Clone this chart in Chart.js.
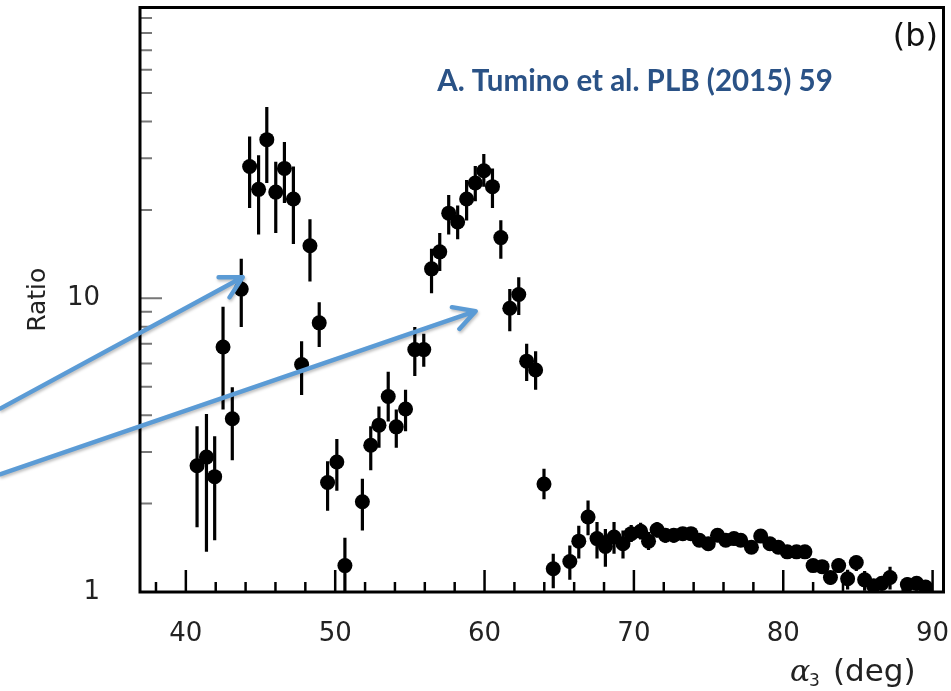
<!DOCTYPE html>
<html>
<head>
<meta charset="utf-8">
<script src="https://cdn.jsdelivr.net/npm/chart.js@4.4.1/dist/chart.umd.min.js"></script>
<style>
  html, body { margin: 0; padding: 0; background: #fff; }
  #wrap { width: 951px; height: 691px; }
</style>
</head>
<body>
<div id="wrap"><canvas id="myChart" width="951" height="691"></canvas></div>
<script>
// alpha_3 angle (deg)
var angle = [40.75, 41.38, 41.93, 42.49, 43.11, 43.71, 44.27, 44.87, 45.42, 46.02,
             46.60, 47.20, 47.75, 48.31, 48.93, 49.49, 50.11, 50.65, 51.82, 52.38,
             52.93, 53.55, 54.09, 54.71, 55.33, 55.93, 56.45, 57.00, 57.60, 58.20,
             58.80, 59.38, 59.95, 60.53, 61.09, 61.69, 62.29, 62.82, 63.42, 63.98,
             64.60, 65.71, 66.31, 66.93, 67.53, 68.09, 68.67, 69.27, 69.82, 70.45,
             70.98, 71.55, 72.11, 72.67, 73.27, 73.82, 74.38, 74.98, 75.60, 76.15,
             76.70, 77.15, 77.87, 78.49, 79.11, 79.67, 80.27, 80.89, 81.45, 82.00,
             82.60, 83.16, 83.71, 84.31, 84.89, 85.45, 86.05, 86.60, 87.15, 88.31,
             88.93, 89.53];
var ratio = [2.69, 2.88, 2.47, 6.83, 3.89, 10.75, 28.1, 23.5, 34.7, 23.0,
             27.7, 21.8, 5.95, 15.1, 8.25, 2.36, 2.77, 1.23, 2.03, 3.16,
             3.70, 4.63, 3.65, 4.20, 6.69, 6.69, 12.6, 14.4, 19.5, 18.2,
             21.8, 24.7, 27.2, 24.0, 16.1, 9.25, 10.3, 6.11, 5.70, 2.33,
             1.20, 1.27, 1.49, 1.80, 1.52, 1.43, 1.54, 1.46, 1.58, 1.61,
             1.49, 1.63, 1.56, 1.56, 1.58, 1.58, 1.50, 1.46, 1.56, 1.50,
             1.52, 1.50, 1.42, 1.55, 1.46, 1.42, 1.37, 1.37, 1.37, 1.23,
             1.22, 1.12, 1.23, 1.11, 1.26, 1.10, 1.05, 1.07, 1.12, 1.06,
             1.07, 1.04];
// error bar ends
var ratioLo = [1.66, 1.37, 1.50, 4.18, 2.81, 7.98, 20.3, 16.5, 24.7, 16.7,
               21.1, 15.3, 4.69, 11.4, 6.83, 1.89, 2.21, 1.00, 1.62, 2.60,
               3.10, 3.81, 3.10, 3.53, 5.44, 5.85, 10.4, 12.4, 16.5, 15.9,
               18.4, 21.4, 24.0, 20.3, 13.65, 7.72, 8.78, 5.23, 4.88, 2.07,
               1.03, 1.10, 1.30, 1.56, 1.30, 1.22, 1.35, 1.30, 1.48, 1.51,
               1.39, 1.53, 1.47, 1.47, 1.50, 1.50, 1.43, 1.39, 1.49, 1.43,
               1.45, 1.43, 1.36, 1.48, 1.40, 1.36, 1.31, 1.31, 1.31, 1.17,
               1.16, 1.06, 1.16, 1.02, 1.18, 1.01, 1.00, 1.01, 1.02, 1.00,
               1.01, 1.00];
var ratioHi = [3.67, 4.04, 3.39, 9.37, 4.98, 13.65, 35.6, 30.7, 44.8, 29.2,
               34.1, 28.1, 7.14, 18.6, 9.69, 2.79, 3.32, 1.53, 2.43, 3.67,
               4.28, 5.62, 4.18, 4.88, 7.98, 7.58, 14.75, 16.7, 22.5, 20.7,
               25.3, 28.2, 31.0, 27.7, 18.45, 10.75, 11.8, 7.01, 6.61, 2.63,
               1.35, 1.44, 1.68, 2.05, 1.73, 1.64, 1.73, 1.62, 1.69, 1.72,
               1.60, 1.73, 1.65, 1.65, 1.66, 1.66, 1.57, 1.53, 1.63, 1.57,
               1.59, 1.57, 1.49, 1.62, 1.52, 1.48, 1.43, 1.43, 1.43, 1.29,
               1.28, 1.18, 1.30, 1.19, 1.33, 1.18, 1.10, 1.13, 1.22, 1.12,
               1.13, 1.08];

var xTicks = [38, 40, 42, 44, 46, 48, 50, 52, 54, 56, 58, 60, 62, 64, 66, 68, 70, 72, 74, 76, 78, 80, 82, 84, 86, 88, 90];
var yTicks = [1, 2, 3, 4, 5, 6, 7, 8, 9, 10, 20, 30, 40, 50, 60, 70, 80, 90];

// arrows drawn by hand on the figure, in data coordinates [x0, y0, x1, y1]
var arrows = [[27.6, 4.22, 43.8, 11.8], [27.6, 2.52, 59.4, 9.04]];

var tickFont = {family: '"DejaVu Sans", sans-serif', size: 26};

var decor = {
  id: 'decor',
  beforeDatasetsDraw: function(chart) {
    var ctx = chart.ctx, a = chart.chartArea;
    var x = chart.scales.x, y = chart.scales.y;
    ctx.save();
    ctx.beginPath();
    ctx.rect(a.left, a.top, a.right - a.left, a.bottom - a.top);
    ctx.clip();
    // error bars
    ctx.strokeStyle = '#000';
    ctx.lineWidth = 3.2;
    ctx.beginPath();
    for (var i = 0; i < angle.length; i++) {
      var px = x.getPixelForValue(angle[i]);
      ctx.moveTo(px, y.getPixelForValue(ratioHi[i]));
      ctx.lineTo(px, y.getPixelForValue(ratioLo[i]));
    }
    ctx.stroke();
    // x ticks (inward)
    ctx.lineWidth = 2.5;
    ctx.beginPath();
    x.ticks.forEach(function(t) {
      var px = x.getPixelForValue(t.value);
      var len = t.value % 10 === 0 ? 22 : 10;
      ctx.moveTo(px, a.bottom);
      ctx.lineTo(px, a.bottom - len);
    });
    ctx.stroke();
    // y ticks (inward)
    ctx.strokeStyle = '#777';
    ctx.lineWidth = 2;
    ctx.beginPath();
    y.ticks.forEach(function(t) {
      if (t.value === 1) return;
      var py = y.getPixelForValue(t.value);
      var len = (t.value === 10 || t.value === 100) ? 22 : 12;
      ctx.moveTo(a.left, py);
      ctx.lineTo(a.left + len, py);
    });
    ctx.stroke();
    ctx.restore();
    // frame
    ctx.save();
    ctx.strokeStyle = '#000';
    ctx.lineWidth = 3;
    ctx.strokeRect(a.left, a.top, a.right - a.left, a.bottom - a.top);
    ctx.restore();
  },
  afterDraw: function(chart) {
    var ctx = chart.ctx;
    var x = chart.scales.x, y = chart.scales.y;
    ctx.save();
    // blue arrows
    ctx.strokeStyle = '#5b9bd5';
    ctx.lineWidth = 4.5;
    ctx.lineCap = 'round';
    ctx.lineJoin = 'round';
    ctx.shadowColor = 'rgba(0,0,0,0.25)';
    ctx.shadowBlur = 3;
    ctx.shadowOffsetX = 1;
    ctx.shadowOffsetY = 2;
    arrows.forEach(function(ar) {
      var x0 = x.getPixelForValue(ar[0]), y0 = y.getPixelForValue(ar[1]);
      var x1 = x.getPixelForValue(ar[2]), y1 = y.getPixelForValue(ar[3]);
      var th = Math.atan2(y1 - y0, x1 - x0);
      ctx.beginPath();
      ctx.moveTo(x0, y0);
      ctx.lineTo(x1, y1);
      ctx.moveTo(x1 - 24 * Math.cos(th - 0.5), y1 - 24 * Math.sin(th - 0.5));
      ctx.lineTo(x1, y1);
      ctx.lineTo(x1 - 24 * Math.cos(th + 0.5), y1 - 24 * Math.sin(th + 0.5));
      ctx.stroke();
    });
    ctx.restore();

    ctx.save();
    // panel label
    ctx.fillStyle = '#111';
    ctx.font = '32px "DejaVu Sans"';
    ctx.textAlign = 'right';
    ctx.textBaseline = 'middle';
    ctx.fillText('(b)', 938, 38);
    // citation
    var cite = 'A. Tumino et al. PLB (2015) 59';
    ctx.font = 'bold 100px Lato';
    var size = 100 * 395 / ctx.measureText(cite).width;
    ctx.font = 'bold ' + size.toFixed(1) + 'px Lato';
    ctx.fillStyle = '#2a5286';
    ctx.textAlign = 'center';
    ctx.fillText(cite, 635, 81);
    // x axis title
    ctx.fillStyle = '#222';
    ctx.textAlign = 'left';
    ctx.textBaseline = 'alphabetic';
    ctx.font = 'italic 30px "DejaVu Serif"';
    ctx.fillText('α', 790, 681);
    ctx.font = '17px "DejaVu Sans"';
    ctx.fillText('3', 809, 686);
    ctx.font = '31px "DejaVu Sans"';
    ctx.fillText('(deg)', 833, 681);
    ctx.restore();
  }
};

var ctx = document.getElementById('myChart').getContext('2d');
var myChart = new Chart(ctx, {
  type: 'scatter',
  data: {
    datasets: [{
      data: angle.map(function(v, i) { return {x: v, y: ratio[i]}; }),
      pointRadius: 7.5,
      pointBackgroundColor: '#000',
      pointBorderWidth: 0,
      showLine: false
    }]
  },
  options: {
    responsive: false,
    animation: false,
    events: [],
    devicePixelRatio: 1,
    layout: {padding: {top: 3, right: 4, left: 0, bottom: 0}},
    plugins: {legend: {display: false}, tooltip: {enabled: false}},
    scales: {
      x: {
        type: 'linear',
        min: 36.93,
        max: 90.73,
        grid: {display: false},
        border: {display: false},
        afterBuildTicks: function(s) { s.ticks = xTicks.map(function(v) { return {value: v}; }); },
        afterFit: function(s) { s.height = 99; s.paddingLeft = 0; s.paddingRight = 0; },
        ticks: {
          autoSkip: false, maxRotation: 0, padding: 19,
          color: '#222', font: tickFont,
          callback: function(v) { return v % 10 === 0 ? String(v) : ''; }
        }
      },
      y: {
        type: 'logarithmic',
        min: 1,
        max: 97.8,
        grid: {display: false},
        border: {display: false},
        afterBuildTicks: function(s) { s.ticks = yTicks.map(function(v) { return {value: v}; }); },
        afterFit: function(s) { s.width = 140; s.paddingTop = 0; s.paddingBottom = 0; },
        title: {
          display: true, text: 'Ratio', color: '#222',
          font: {family: '"DejaVu Sans", sans-serif', size: 25},
          padding: {top: 23, bottom: 0}
        },
        ticks: {
          autoSkip: false, padding: 32,
          color: '#222', font: tickFont,
          callback: function(v) { return (v === 1 || v === 10) ? String(v) : ''; }
        }
      }
    }
  },
  plugins: [decor]
});
</script>
</body>
</html>
